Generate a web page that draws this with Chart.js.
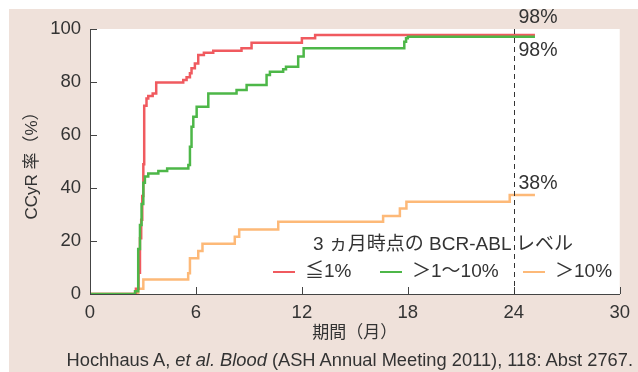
<!DOCTYPE html>
<html>
<head>
<meta charset="utf-8">
<script src="https://cdn.jsdelivr.net/npm/chart.js@4"></script>
<style>
  html, body { margin: 0; padding: 0; background: #fff; }
  body { width: 638px; height: 372px; position: relative; overflow: hidden;
         font-family: "Liberation Sans", Arial, "Noto Sans CJK JP", sans-serif; color: #333; }
  #panel { position: absolute; left: 9px; top: 9px; width: 629px; height: 363px; background: #efe1da; }
  #wrap { position: absolute; left: 0; top: 0; width: 638px; height: 372px; }
  .legend { position: absolute; font-size: 19px; white-space: nowrap; line-height: 1; }
  .legend .sw { display: inline-block; width: 22px; height: 2.5px; vertical-align: middle; margin-right: 10px; }
  #cite { position: absolute; right: 5px; top: 350px; font-size: 18.3px; white-space: nowrap; line-height: 1.1; }
</style>
</head>
<body>
<div id="panel"></div>
<div id="wrap"><canvas id="c" width="638" height="372"></canvas></div>
<div class="legend" style="left:313px; top:234px;">3 ヵ月時点の BCR-ABL レベル</div>
<div class="legend" style="left:273px; top:261px;"><span class="sw" style="background:#f05a5f"></span>≦1%</div>
<div class="legend" style="left:380px; top:261px;"><span class="sw" style="background:#4db748"></span>＞1～10%</div>
<div class="legend" style="left:523px; top:261px;"><span class="sw" style="background:#fdb978"></span>＞10%</div>
<div id="cite">Hochhaus A, <i>et al. Blood</i> (ASH Annual Meeting 2011), 118: Abst 2767.</div>
<script>
// months and cumulative CCyR rate (%) — value holds from that month on
const lowMonths  = [0, 2.6, 2.75, 2.83, 2.9, 2.96, 3.02, 3.07, 3.2, 3.3, 3.55, 3.75, 5.28, 5.47, 5.66, 5.75, 5.94, 6.13, 6.45, 6.98, 8.58, 9.15, 12.0, 12.75, 25.2];
const lowRates   = [0, 2, 8, 21, 28, 37, 49, 71, 73.8, 74.7, 75.7, 79.8, 80.8, 81.8, 83.3, 85.2, 87, 90.2, 91, 91.8, 92.7, 94.8, 96.5, 97.7, 97.7];

const midMonths  = [0, 2.55, 2.73, 2.83, 2.92, 3.02, 3.11, 3.3, 3.87, 4.37, 5.57, 5.66, 5.75, 5.85, 6.04, 6.7, 8.3, 8.87, 10.0, 10.19, 10.94, 11.1, 11.79, 12.1, 17.8, 17.9, 18.0, 25.2];
const midRates   = [0, 1, 17, 26, 34, 42, 44.3, 45.5, 46.4, 47.4, 48.7, 55.6, 63.1, 66.9, 70.7, 75.7, 77, 78.9, 82.6, 83.9, 84.8, 85.8, 89.6, 92.7, 95.2, 96.5, 97.1, 97.1];

const highMonths = [0, 2.73, 3.02, 5.56, 5.66, 6.13, 6.37, 8.2, 8.45, 10.66, 16.6, 17.55, 17.92, 23.77, 25.2];
const highRates  = [0, 2, 5.5, 7.8, 13.5, 16.2, 19, 21.6, 24.3, 27.3, 29.4, 32.3, 34.8, 37.4, 37.4];

const seriesNames = ['≦1%', '＞1～10%', '＞10%'];
const endLabels   = ['98%', '98%', '38%'];
const xTicks = [0, 6, 12, 18, 24, 30];
const yTicks = [0, 20, 40, 60, 80, 100];
const landmark = 24;

const colors = ['#f05a5f', '#4db748', '#fdb978'];
const labelShift = [-17, 14, -11];

function pts(xs, ys) {
  return xs.map((x, i) => ({ x: x, y: ys[i] }));
}

const extras = {
  id: 'extras',
  beforeDraw(chart) {
    const { ctx, chartArea: a } = chart;
    ctx.save();
    ctx.fillStyle = '#fff';
    ctx.fillRect(a.left, a.top, a.right - a.left, a.bottom - a.top);
    ctx.restore();
  },
  afterDraw(chart) {
    const { ctx, chartArea: a, scales: { x, y } } = chart;
    ctx.save();
    // inward tick marks
    ctx.strokeStyle = '#444';
    ctx.lineWidth = 1;
    ctx.beginPath();
    yTicks.forEach(v => {
      const py = Math.round(y.getPixelForValue(v)) + 0.5;
      ctx.moveTo(a.left, py); ctx.lineTo(a.left + 7, py);
    });
    xTicks.forEach(v => {
      const px = Math.round(x.getPixelForValue(v)) + 0.5;
      ctx.moveTo(px, a.bottom); ctx.lineTo(px, a.bottom - 7);
    });
    ctx.stroke();
    // dashed line at 24 months
    const lx = Math.round(x.getPixelForValue(landmark)) + 0.5;
    ctx.setLineDash([5, 4]);
    ctx.strokeStyle = '#333';
    ctx.beginPath();
    ctx.moveTo(lx, a.top); ctx.lineTo(lx, a.bottom);
    ctx.stroke();
    ctx.setLineDash([]);
    // end labels
    ctx.fillStyle = '#333';
    ctx.font = '19.5px "Liberation Sans", Arial, sans-serif';
    ctx.textBaseline = 'middle';
    chart.data.datasets.forEach((ds, i) => {
      const last = ds.data[ds.data.length - 1];
      ctx.fillText(endLabels[i], lx + 4, y.getPixelForValue(last.y) + labelShift[i]);
    });
    ctx.restore();
  }
};

new Chart(document.getElementById('c'), {
  type: 'line',
  data: {
    datasets: [
      { label: seriesNames[0], data: pts(lowMonths, lowRates), borderColor: colors[0], order: 1 },
      { label: seriesNames[1], data: pts(midMonths, midRates), borderColor: colors[1], order: 0 },
      { label: seriesNames[2], data: pts(highMonths, highRates), borderColor: colors[2], order: 2 }
    ].map(d => Object.assign(d, { stepped: true, borderWidth: 2.5, pointRadius: 0, fill: false }))
  },
  options: {
    responsive: false,
    animation: false,
    layout: { padding: { left: 0, top: 29, right: 18, bottom: 30 } },
    plugins: { legend: { display: false }, tooltip: { enabled: false } },
    scales: {
      x: {
        type: 'linear', min: 0, max: 30,
        afterBuildTicks: s => { s.ticks = xTicks.map(v => ({ value: v })); },
        afterFit: s => { s.height = 48; },
        grid: { display: false, drawTicks: false },
        border: { display: true, color: '#444', width: 1 },
        ticks: { padding: 8, color: '#333', font: { size: 18.5, family: '"Liberation Sans", Arial, sans-serif' }, maxRotation: 0 },
        title: { display: true, text: '期間（月）', color: '#333', padding: 0,
                 font: { size: 17, family: '"Noto Sans CJK JP", sans-serif' } }
      },
      y: {
        min: 0, max: 100,
        afterBuildTicks: s => { s.ticks = yTicks.map(v => ({ value: v })); },
        afterFit: s => { s.width = 90; },
        grid: { display: false, drawTicks: false },
        border: { display: true, color: '#444', width: 1 },
        ticks: { padding: 9, color: '#333', font: { size: 18.5, family: '"Liberation Sans", Arial, sans-serif' } },
        title: { display: true, text: 'CCyR 率（%）', color: '#333', padding: { top: 22, bottom: 0 },
                 font: { size: 17, family: '"Liberation Sans", "Noto Sans CJK JP", sans-serif' } }
      }
    }
  },
  plugins: [extras]
});
</script>
</body>
</html>
